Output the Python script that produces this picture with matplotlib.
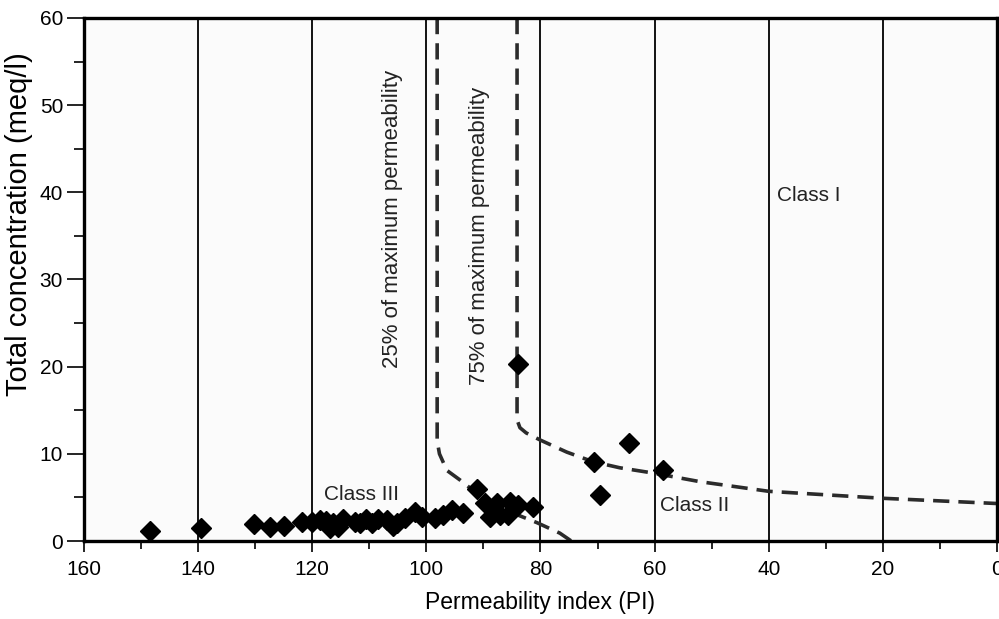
import matplotlib
matplotlib.use("Agg")
import matplotlib.pyplot as plt
from matplotlib.ticker import MultipleLocator

plt.rcParams['font.family'] = ['Liberation Sans', 'DejaVu Sans']

# sample points (permeability index, total concentration meq/l)
pi_vals = [148.5, 139.5, 130.2, 127.4, 124.9, 121.8, 120.0, 118.6, 117.6, 116.4,
           116.9, 115.5, 114.6, 112.5, 111.6, 110.6, 109.5, 108.5, 106.9, 105.8,
           105.1, 103.7, 102.0, 100.8, 98.5, 97.1, 95.5, 93.6, 91.2, 89.7,
           88.8, 87.6, 87.1, 85.7, 85.3, 83.9, 81.3, 84.0, 70.6, 69.6,
           64.5, 58.5]
conc_vals = [1.2, 1.5, 2.0, 1.6, 1.7, 2.2, 2.2, 2.4, 2.3, 2.1,
             1.5, 1.6, 2.5, 2.2, 2.1, 2.5, 2.1, 2.5, 2.4, 1.7,
             2.1, 2.6, 3.3, 2.8, 2.6, 3.0, 3.6, 3.2, 6.0, 4.4,
             2.8, 4.4, 3.0, 3.0, 4.5, 4.1, 3.9, 20.3, 9.1, 5.3,
             11.2, 8.1]

# boundary curves
pi_25 = [98.1, 98.1, 97.7, 96.4, 94.1, 91.8, 88.8, 84.8, 80.6, 76.6, 74.6]
c_25 = [60, 11.5, 10.0, 8.1, 7.0, 5.8, 4.5, 3.2, 2.1, 0.9, 0.0]
pi_75 = [84.1, 84.1, 83.6, 82.5, 80.1, 75.4, 70.8, 66.1, 60.3, 52.0, 40.0, 20.0, 0.0]
c_75 = [60, 13.9, 13.0, 12.4, 11.6, 10.2, 9.1, 8.4, 7.8, 6.8, 5.7, 4.9, 4.3]

grid_x = [140, 120, 100, 80, 60, 40, 20]

fig = plt.figure(figsize=(9.99, 6.19), dpi=100)
ax = fig.add_axes([0.084, 0.126, 0.914, 0.845])
ax.set_facecolor('#fbfbfb')

for g in grid_x:
    ax.axvline(g, color='black', lw=1.3, zorder=1)

ax.plot(pi_25, c_25, color='#2b2b2b', lw=2.6, dashes=(4.5, 2.5), zorder=2)
ax.plot(pi_75, c_75, color='#2b2b2b', lw=2.6, dashes=(4.5, 2.5), zorder=2)

ax.plot(pi_vals, conc_vals, 'D', color='black', ms=10, zorder=3)

ax.set_xlim(160, 0)
ax.set_ylim(0, 60)
ax.xaxis.set_major_locator(MultipleLocator(20))
ax.xaxis.set_minor_locator(MultipleLocator(10))
ax.yaxis.set_major_locator(MultipleLocator(10))
ax.yaxis.set_minor_locator(MultipleLocator(5))
ax.tick_params(axis='x', which='major', direction='out', length=8, width=1.2, labelsize=15, pad=6)
ax.tick_params(axis='x', which='minor', direction='out', length=6, width=1.2)
ax.tick_params(axis='y', which='major', direction='out', length=12, width=1.2, labelsize=15, pad=3)
ax.tick_params(axis='y', which='minor', direction='out', length=7, width=1.2)

for side in ['top', 'bottom', 'left', 'right']:
    ax.spines[side].set_linewidth(2.4)

ax.set_xlabel('Permeability index (PI)', fontsize=16.5, labelpad=8)
ax.set_ylabel('Total concentration (meq/l)', fontsize=21)
ax.yaxis.set_label_coords(-0.056, 0.605)

ax.text(106, 37, '25% of maximum permeability', rotation=90, fontsize=16,
        ha='center', va='center', color='#222222')
ax.text(90.6, 35, '75% of maximum permeability', rotation=90, fontsize=16,
        ha='center', va='center', color='#222222')
ax.text(33, 39.6, 'Class I', fontsize=15, ha='center', va='center', color='#222222')
ax.text(53, 4.1, 'Class II', fontsize=15, ha='center', va='center', color='#222222')
ax.text(111.3, 5.3, 'Class III', fontsize=15, ha='center', va='center', color='#222222')

fig.savefig('out.png', dpi=100)
